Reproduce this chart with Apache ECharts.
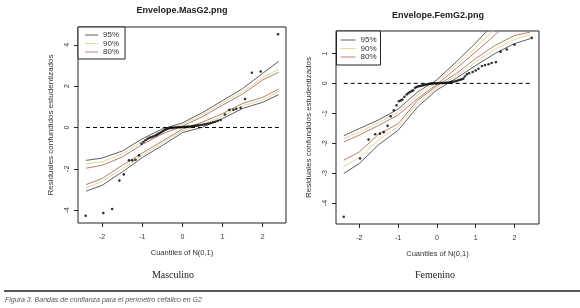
<!DOCTYPE html>
<html>
<head>
<meta charset="utf-8">
<script src="https://cdn.jsdelivr.net/npm/echarts@6/dist/echarts.min.js"></script>
<style>
  html, body { margin: 0; padding: 0; background: #fff; }
  #box { width: 580px; height: 308px; }
</style>
</head>
<body>
<div id="box"></div>
<script>
// ---- data: Masculino ----
let mascQ = [-2.41,-1.97,-1.75,-1.57,-1.46,-1.33,-1.25,-1.17,-1.08,-1.02,-0.97,-0.92,-0.87,-0.82,-0.78,-0.73,-0.68,-0.64,-0.60,-0.56,-0.52,-0.48,-0.44,-0.40,-0.36,-0.32,-0.28,-0.24,-0.20,-0.16,-0.12,-0.08,-0.04,0.00,0.04,0.08,0.12,0.16,0.20,0.24,0.28,0.32,0.36,0.40,0.45,0.50,0.55,0.60,0.65,0.70,0.76,0.82,0.88,0.95,1.06,1.17,1.27,1.34,1.45,1.56,1.73,1.95,2.38];
let mascR = [-4.27,-4.14,-3.94,-2.57,-2.27,-1.59,-1.59,-1.56,-1.35,-0.79,-0.70,-0.62,-0.55,-0.50,-0.47,-0.44,-0.40,-0.36,-0.31,-0.27,-0.22,-0.17,-0.12,-0.08,-0.05,-0.03,-0.02,-0.01,0.00,0.00,0.01,0.01,0.01,0.02,0.02,0.03,0.03,0.04,0.05,0.06,0.07,0.08,0.09,0.10,0.12,0.13,0.15,0.17,0.19,0.22,0.25,0.28,0.32,0.36,0.63,0.85,0.86,0.90,0.95,1.38,2.65,2.71,4.51];
let mascEnvX = [-2.4,-2.0,-1.5,-1.0,-0.5,0,0.5,1.0,1.5,2.0,2.4];
let mascU95 = [-1.59,-1.48,-1.14,-0.55,-0.07,0.22,0.72,1.30,1.88,2.62,3.20];
let mascU90 = [-1.75,-1.66,-1.28,-0.68,-0.18,0.14,0.62,1.18,1.74,2.40,2.83];
let mascU80 = [-1.97,-1.83,-1.43,-0.82,-0.31,0.06,0.52,1.08,1.62,2.30,2.67];
let mascL80 = [-2.76,-2.47,-1.83,-1.24,-0.66,-0.08,0.26,0.67,1.16,1.46,1.86];
let mascL90 = [-2.92,-2.62,-1.99,-1.35,-0.76,-0.16,0.14,0.55,1.04,1.34,1.75];
let mascL95 = [-3.08,-2.80,-2.15,-1.46,-0.87,-0.25,0.01,0.43,0.92,1.22,1.59];
let mascXTicks = [-2,-1,0,1,2];
let mascYTicks = [-4,-2,0,2,4];

// ---- data: Femenino ----
let femQ = [-2.40,-1.98,-1.76,-1.59,-1.47,-1.37,-1.27,-1.19,-1.11,-1.04,-0.98,-0.93,-0.89,-0.84,-0.78,-0.74,-0.70,-0.65,-0.61,-0.56,-0.52,-0.48,-0.44,-0.40,-0.36,-0.32,-0.28,-0.24,-0.20,-0.16,-0.12,-0.08,-0.04,0.00,0.04,0.08,0.12,0.16,0.20,0.24,0.28,0.32,0.36,0.40,0.45,0.50,0.55,0.60,0.64,0.68,0.72,0.77,0.83,0.92,1.00,1.07,1.16,1.24,1.33,1.41,1.52,1.64,1.80,2.00,2.44];
let femR = [-4.46,-2.51,-1.88,-1.70,-1.68,-1.63,-1.42,-1.10,-0.90,-0.73,-0.60,-0.57,-0.54,-0.45,-0.37,-0.33,-0.29,-0.26,-0.23,-0.15,-0.12,-0.10,-0.09,-0.08,-0.06,-0.05,-0.04,-0.03,-0.02,-0.01,-0.01,0.00,0.00,0.00,0.00,0.01,0.01,0.01,0.01,0.02,0.02,0.03,0.04,0.05,0.06,0.08,0.10,0.12,0.14,0.16,0.23,0.30,0.34,0.38,0.43,0.49,0.58,0.61,0.64,0.68,0.71,1.06,1.13,1.29,1.52];
let femEnvX = [-2.4,-2.0,-1.5,-1.0,-0.5,0,0.5,1.0,1.5,2.0,2.4];
let femU95 = [-1.75,-1.51,-1.22,-0.86,-0.29,0.12,0.72,1.35,2.05,2.75,3.30];
let femU90 = [-1.85,-1.62,-1.31,-0.96,-0.40,0.05,0.61,1.20,1.82,2.45,2.95];
let femU80 = [-1.96,-1.73,-1.40,-1.06,-0.51,-0.03,0.50,1.05,1.62,2.20,2.60];
let femL80 = [-2.57,-2.29,-1.70,-1.35,-0.57,-0.08,0.33,0.83,1.27,1.60,1.71];
let femL90 = [-2.79,-2.48,-1.88,-1.45,-0.68,-0.15,0.25,0.72,1.14,1.47,1.63];
let femL95 = [-3.01,-2.68,-2.05,-1.57,-0.79,-0.22,0.17,0.60,1.00,1.33,1.49];
let femXTicks = [-2,-1,0,1,2];
let femYTicks = [-4,-3,-2,-1,0,1];

let levels = ["95%", "90%", "80%"];
let refLineX = [-2.4, 2.4];

// ---- styles ----
let col = { "95%": "#5c5c6e", "90%": "#e2d89c", "80%": "#b5806e" };
let sans = "Liberation Sans, Arial, sans-serif";
let ink = "#222";

function pairs(xs, ys) {
  return xs.map((x, i) => [x, ys[i]]);
}

function envLine(name, xs, ys, gi) {
  return {
    type: "line", name: name, xAxisIndex: gi, yAxisIndex: gi,
    data: pairs(xs, ys), symbol: "none", showSymbol: false, silent: true,
    lineStyle: { color: col[name], width: 1 }, itemStyle: { color: col[name] },
    z: 2
  };
}

function points(xs, ys, gi) {
  return {
    type: "scatter", xAxisIndex: gi, yAxisIndex: gi, data: pairs(xs, ys),
    symbolSize: 2.6, itemStyle: { color: "#000" }, silent: true, z: 4
  };
}

function zeroLine(gi) {
  return {
    type: "line", xAxisIndex: gi, yAxisIndex: gi, data: refLineX.map(x => [x, 0]),
    symbol: "none", silent: true, lineStyle: { color: "#000", width: 1, type: [4, 3] }, z: 3
  };
}

function xAx(gi, min, max, ticks) {
  return {
    type: "value", gridIndex: gi, min: min, max: max,
    axisLine: { show: false, onZero: false }, splitLine: { show: false },
    axisTick: { show: true, length: 4, customValues: ticks, lineStyle: { color: ink } },
    axisLabel: { customValues: ticks, fontSize: 7, color: "#333", margin: 11, fontFamily: sans },
    name: "Cuantiles of N(0,1)", nameLocation: "middle", nameGap: 26,
    nameTextStyle: { fontSize: 7.5, color: "#333", fontFamily: sans }
  };
}

function yAx(gi, min, max, ticks) {
  return {
    type: "value", gridIndex: gi, min: min, max: max,
    axisLine: { show: false, onZero: false }, splitLine: { show: false },
    axisTick: { show: true, length: 4, customValues: ticks, lineStyle: { color: ink } },
    axisLabel: { customValues: ticks, rotate: 90, fontSize: 7, color: "#333", margin: 7, fontFamily: sans },
    name: "Residuales confundidos estudentizados", nameLocation: "middle", nameGap: 23,
    nameTextStyle: { fontSize: 8, color: "#333", fontFamily: sans }
  };
}

function legendBox(left, top, pad, iw) {
  return {
    left: left, top: top, orient: "vertical", data: levels, selectedMode: false,
    icon: "rect", itemWidth: iw, itemHeight: 1, itemGap: 0.5, padding: pad,
    borderColor: ink, borderWidth: 1, borderRadius: 0, backgroundColor: "#fff",
    textStyle: { fontSize: 8, lineHeight: 8, color: "#333", fontFamily: sans }
  };
}

let series = [];
[[mascU95, mascL95, "95%"], [mascU90, mascL90, "90%"], [mascU80, mascL80, "80%"]].forEach(s => {
  series.push(envLine(s[2], mascEnvX, s[0], 0));
  series.push(envLine(s[2], mascEnvX, s[1], 0));
});
[[femU95, femL95, "95%"], [femU90, femL90, "90%"], [femU80, femL80, "80%"]].forEach(s => {
  series.push(envLine(s[2], femEnvX, s[0], 1));
  series.push(envLine(s[2], femEnvX, s[1], 1));
});
series.push(zeroLine(0), zeroLine(1), points(mascQ, mascR, 0), points(femQ, femR, 1));

let option = {
  animation: false,
  backgroundColor: "#fff",
  grid: [
    { left: 78, top: 27, width: 208, height: 196, show: true, borderColor: ink, borderWidth: 1, backgroundColor: "transparent" },
    { left: 336, top: 31, width: 203, height: 193, show: true, borderColor: ink, borderWidth: 1, backgroundColor: "transparent" }
  ],
  xAxis: [xAx(0, -2.6, 2.58, mascXTicks), xAx(1, -2.6, 2.63, femXTicks)],
  yAxis: [yAx(0, -4.62, 4.86, mascYTicks), yAx(1, -4.7, 1.75, femYTicks)],
  legend: [legendBox(78, 27, [4, 6, 3, 7], 13), legendBox(336.5, 31, [5, 4, 4, 4], 15)],
  series: series,
  graphic: [
    { type: "text", x: 182, y: 11, style: { text: "Envelope.MasG2.png", textAlign: "center", textVerticalAlign: "middle", font: "bold 9px Liberation Sans", fill: "#222" } },
    { type: "text", x: 438, y: 16, style: { text: "Envelope.FemG2.png", textAlign: "center", textVerticalAlign: "middle", font: "bold 9px Liberation Sans", fill: "#222" } },
    { type: "text", x: 173, y: 275, style: { text: "Masculino", textAlign: "center", textVerticalAlign: "middle", font: "10px Liberation Serif", fill: "#222" } },
    { type: "text", x: 435, y: 275, style: { text: "Femenino", textAlign: "center", textVerticalAlign: "middle", font: "10px Liberation Serif", fill: "#222" } },
    { type: "line", shape: { x1: 4, y1: 291, x2: 580, y2: 291 }, style: { stroke: "#222", lineWidth: 1.5 } },
    { type: "text", x: 5, y: 300, style: { text: "Figura 3. Bandas de confianza para el perímetro cefálico en G2", textVerticalAlign: "middle", font: "italic 7px Liberation Sans", fill: "#555" } }
  ]
};

let chart = echarts.init(document.getElementById("box"), null, { renderer: "canvas" });
chart.setOption(option);
</script>
</body>
</html>
